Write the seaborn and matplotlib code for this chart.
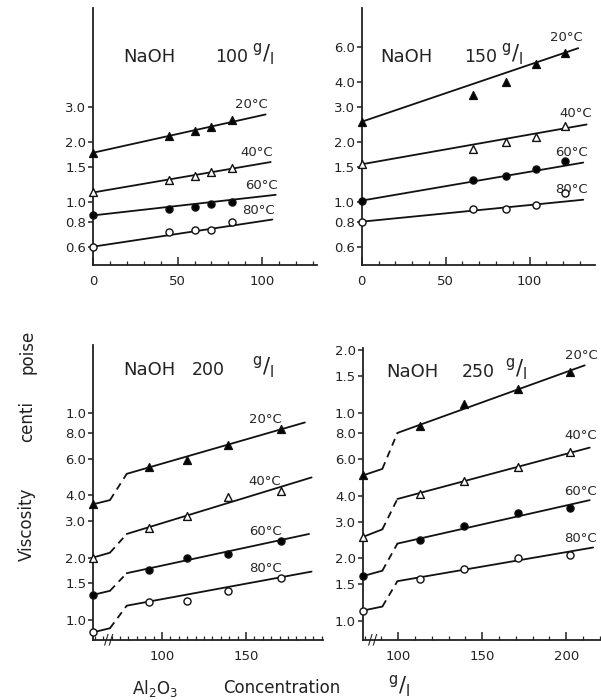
import matplotlib
matplotlib.use('Agg')
import matplotlib.pyplot as plt
import seaborn as sns
from matplotlib.ticker import FixedLocator, MultipleLocator, NullLocator


### Data

temps = ['20°C', '40°C', '60°C', '80°C']

# NaOH 100 g/l
x100 = [0, 45, 60, 70, 82]
v100 = [[1.77, 2.15, 2.28, 2.37, 2.58],
        [1.12, 1.29, 1.35, 1.41, 1.48],
        [0.86, 0.93, 0.95, 0.98, 1.00],
        [0.60, 0.71, 0.73, 0.73, 0.80]]
fit100_end_x = [102, 105, 108, 106]
fit100_start = [1.77, 1.12, 0.86, 0.60]
fit100_end = [2.75, 1.59, 1.09, 0.82]

# NaOH 150 g/l
x150 = [0, 66, 86, 104, 121]
v150 = [[2.53, 3.43, 4.0, 4.9, 5.6],
        [1.55, 1.85, 2.0, 2.13, 2.40],
        [1.02, 1.29, 1.36, 1.46, 1.60],
        [0.80, 0.93, 0.93, 0.97, 1.11]]
fit150_end_x = [129, 134, 132, 132]
fit150_start = [2.53, 1.55, 1.02, 0.80]
fit150_end = [5.9, 2.45, 1.58, 1.03]

# NaOH 200 g/l  (first point is Al2O3 = 0, drawn at the broken axis origin)
x200 = [59, 92, 115, 139, 171]
v200 = [[3.62, 5.46, 5.95, 7.0, 8.4],
        [2.0, 2.78, 3.17, 3.92, 4.2],
        [1.32, 1.75, 2.0, 2.09, 2.41],
        [0.87, 1.22, 1.23, 1.38, 1.60]]
knot200_x = [59, 69, 79]
knot200 = [[3.62, 3.79, 5.08],
           [2.0, 2.11, 2.60],
           [1.32, 1.38, 1.68],
           [0.87, 0.91, 1.17]]
fit200_end_x = [185, 189, 187.5, 189]
fit200_end = [9.0, 4.88, 2.6, 1.71]

# NaOH 250 g/l
x250 = [79, 113, 139, 171, 202]
v250 = [[5.0, 8.6, 11.0, 13.0, 15.7],
        [2.53, 4.08, 4.7, 5.5, 6.5],
        [1.64, 2.45, 2.85, 3.3, 3.47],
        [1.12, 1.59, 1.78, 2.0, 2.07]]
knot250_x = [79, 90.5, 99.5]
knot250 = [[5.0, 5.37, 8.0],
           [2.53, 2.75, 3.85],
           [1.64, 1.74, 2.35],
           [1.12, 1.17, 1.55]]
fit250_end_x = [211, 214, 214, 216]
fit250_end = [16.9, 6.8, 3.8, 2.25]

yt_top1 = [0.6, 0.8, 1.0, 1.5, 2.0, 3.0]
yt_top2 = [0.6, 0.8, 1.0, 1.5, 2.0, 3.0, 4.0, 6.0]
yt_bot1 = [1.0, 1.5, 2.0, 3.0, 4.0, 6.0, 8.0, 10.0]
yt_bot1_lab = ['1.0', '1.5', '2.0', '3.0', '4.0', '6.0', '8.0', '1.0']
yt_bot2 = [1.0, 1.5, 2.0, 3.0, 4.0, 6.0, 8.0, 10.0, 15.0, 20.0]
yt_bot2_lab = ['1.0', '1.5', '2.0', '3.0', '4.0', '6.0', '8.0', '1.0', '1.5', '2.0']


### Styling

sns.set_theme(style='ticks')
plt.rcParams['font.family'] = ['DejaVu Sans']
plt.rcParams['mathtext.fontset'] = 'dejavusans'
plt.rcParams['mathtext.default'] = 'regular'

markers = ['^', '^', 'o', 'o']
faces = ['black', 'white', 'black', 'white']
gl = r'$^{g}/_{l}$'
ink = '#222222'
lw = 1.3


def setup_axis(ax, xlim, ylim, yticks, ylabels, xmajor, xminor):
    ax.set_yscale('log')
    ax.set_xlim(*xlim)
    ax.set_ylim(*ylim)
    ax.yaxis.set_major_locator(FixedLocator(yticks))
    ax.yaxis.set_minor_locator(NullLocator())
    ax.set_yticklabels(ylabels)
    ax.xaxis.set_major_locator(MultipleLocator(xmajor))
    ax.xaxis.set_minor_locator(MultipleLocator(xminor))
    ax.tick_params(axis='y', direction='out', length=3.5, width=1.1, pad=1.5,
                   labelsize=9.5, colors=ink)
    ax.tick_params(axis='x', which='major', direction='in', length=6, width=1.1,
                   pad=7, labelsize=9.5, colors=ink)
    ax.tick_params(axis='x', which='minor', direction='in', length=3, width=0.9)
    for s in ['top', 'right']:
        ax.spines[s].set_visible(False)
    for s in ['left', 'bottom']:
        ax.spines[s].set_linewidth(1.3)
        ax.spines[s].set_color(ink)
    ax.set_facecolor('white')
    ax.set_xlabel('')
    ax.set_ylabel('')


def draw_points(ax, xs, vals):
    for i in range(4):
        sns.scatterplot(x=xs, y=vals[i], marker=markers[i], s=32 if i < 2 else 26,
                        color=faces[i], edgecolor='#111111', linewidth=1.0,
                        ax=ax, zorder=4, clip_on=False, legend=False)


def title(ax, num, xs, y):
    ax.text(xs[0], y, 'NaOH', transform=ax.transAxes, fontsize=13,
            ha='left', va='center', color=ink)
    ax.text(xs[1], y, num, transform=ax.transAxes, fontsize=12.5,
            ha='left', va='center', color=ink)
    ax.text(xs[2], y + 0.01, gl, transform=ax.transAxes, fontsize=15,
            ha='left', va='center', color=ink)


fig = plt.figure(figsize=(6.01, 7.0), dpi=100)
fig.patch.set_facecolor('white')
ax1 = fig.add_axes([0.155, 0.621, 0.3727, 0.367])
ax2 = fig.add_axes([0.602, 0.621, 0.388, 0.367])
ax3 = fig.add_axes([0.155, 0.086, 0.383, 0.421])
ax4 = fig.add_axes([0.604, 0.086, 0.394, 0.417])

# Panel 1 : NaOH 100
setup_axis(ax1, (0, 132.5), (0.484, 9.33), yt_top1, ['%.1f' % t for t in yt_top1], 50, 10)
for i in range(4):
    sns.lineplot(x=[0, fit100_end_x[i]], y=[fit100_start[i], fit100_end[i]], ax=ax1,
                 color='#111111', lw=lw, estimator=None, sort=False)
    ax1.annotate(temps[i], (fit100_end_x[i], fit100_end[i]), xytext=(2, 3),
                 textcoords='offset pixels', ha='right', va='bottom', fontsize=9.5)
draw_points(ax1, x100, v100)
title(ax1, '100', [0.134, 0.545, 0.71], 0.81)

# Panel 2 : NaOH 150
setup_axis(ax2, (0, 139), (0.484, 9.33), yt_top2, ['%.1f' % t for t in yt_top2], 50, 10)
for i in range(4):
    sns.lineplot(x=[0, fit150_end_x[i]], y=[fit150_start[i], fit150_end[i]], ax=ax2,
                 color='#111111', lw=lw, estimator=None, sort=False)
    ax2.annotate(temps[i], (fit150_end_x[i], fit150_end[i]), xytext=(5, 4),
                 textcoords='offset pixels', ha='right', va='bottom', fontsize=9.5)
draw_points(ax2, x150, v150)
title(ax2, '150', [0.077, 0.44, 0.595], 0.81)

# Panels 3, 4 : broken axis, dashed transition
for ax, xlim, ylim, yt, ylab, xs, vals, kx, kv, ex, ev, xminor, lab_ha, lab_off, tpos, num, brk in [
        (ax3, (59, 196), (0.80, 21.3), yt_bot1, yt_bot1_lab, x200, v200, knot200_x, knot200,
         fit200_end_x, fit200_end, 5, 'right', (0, 3), ([0.13, 0.43, 0.69], 0.915), '200', 68),
        (ax4, (79, 220), (0.81, 20.5), yt_bot2, yt_bot2_lab, x250, v250, knot250_x, knot250,
         fit250_end_x, fit250_end, 10, 'left', (-5, 10), ([0.097, 0.418, 0.6], 0.918), '250', 85)]:
    setup_axis(ax, xlim, ylim, yt, ylab, 50, xminor)
    ax.xaxis.set_major_locator(FixedLocator([100, 150, 200]))
    for i in range(4):
        sns.lineplot(x=kx[:2], y=kv[i][:2], ax=ax, color='#111111', lw=lw,
                     estimator=None, sort=False)
        sns.lineplot(x=kx[1:], y=kv[i][1:], ax=ax, color='#111111', lw=lw,
                     estimator=None, sort=False, linestyle=(0, (4, 3)))
        sns.lineplot(x=[kx[2], ex[i]], y=[kv[i][2], ev[i]], ax=ax, color='#111111',
                     lw=lw, estimator=None, sort=False)
        ax.annotate(temps[i], (xs[-1], vals[i][-1]), xytext=lab_off,
                    textcoords='offset pixels', ha=lab_ha, va='bottom', fontsize=9.5)
    draw_points(ax, xs, vals)
    title(ax, num, tpos[0], tpos[1])
    ax.text(brk, 0, '//', transform=ax.get_xaxis_transform(), ha='center', va='center',
            fontsize=10, color=ink)

ax1.set_xticklabels([str(int(t)) for t in ax1.get_xticks()])

# Axis titles
fig.text(0.045, 0.251, 'Viscosity', rotation=90, ha='center', va='center', fontsize=12, color=ink)
fig.text(0.045, 0.398, 'centi', rotation=90, ha='center', va='center', fontsize=12, color=ink)
fig.text(0.045, 0.497, 'poise', rotation=90, ha='center', va='center', fontsize=12, color=ink)
fig.text(0.258, 0.017, r'Al$_2$O$_3$', ha='center', va='center', fontsize=12, color=ink)
fig.text(0.469, 0.017, 'Concentration', ha='center', va='center', fontsize=12, color=ink)
fig.text(0.664, 0.02, gl, ha='center', va='center', fontsize=15, color=ink)

fig.savefig('out.png', dpi=100)
